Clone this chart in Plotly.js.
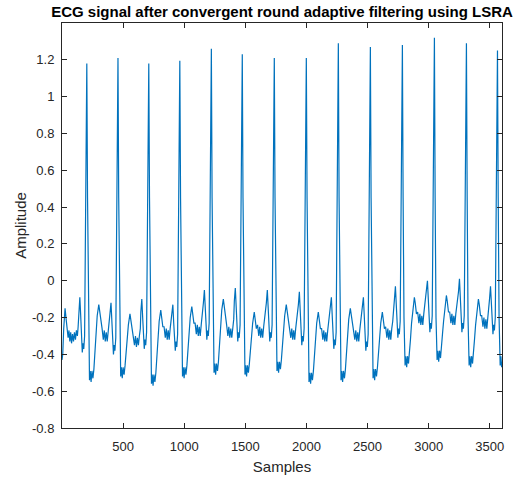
<!DOCTYPE html>
<html>
<head>
<meta charset="utf-8">
<script src="https://cdn.plot.ly/plotly-3.0.1.min.js"></script>
<style>html,body{margin:0;padding:0;background:#fff;}#chart{width:520px;height:479px;}</style>
</head>
<body>
<div id="chart"></div>
<script>
// Sample index of each traced point of the filtered ECG
const samples = [
  0,6,14,25,34,42,50,57,64,71,78,86,94,102,110,118,126,132,
  138,146,153,160,166,172,178,185,193,203,209,216,225,231,238,245,253,261,269,278,288,301,308,318,328,338,346,354,362,370,378,386,
  393,401,408,415,421,427,433,440,448,458,464,471,480,486,493,500,508,516,524,533,543,556,563,573,583,593,601,609,617,625,633,641,
  645,653,660,667,673,679,685,692,700,710,716,723,732,738,745,752,760,768,776,785,795,808,815,825,835,845,853,861,869,877,885,893,
  899,907,914,921,927,933,939,946,954,964,970,977,986,992,999,1006,1014,1022,1030,1039,1049,1062,1069,1079,1089,1099,1107,1115,1123,1131,1139,1147,
  1157,1165,1172,1179,1185,1191,1197,1204,1212,1222,1228,1235,1244,1250,1257,1264,1272,1280,1288,1297,1307,1320,1327,1337,1347,1357,1365,1373,1381,1389,1397,1405,
  1410,1418,1425,1432,1438,1444,1450,1457,1465,1475,1481,1488,1497,1503,1510,1517,1525,1533,1541,1550,1560,1573,1580,1590,1600,1610,1618,1626,1634,1642,1650,1658,
  1672,1680,1687,1694,1700,1706,1712,1719,1727,1737,1743,1750,1759,1765,1772,1779,1787,1795,1803,1812,1822,1835,1842,1852,1862,1872,1880,1888,1896,1904,1912,1920,
  1934,1942,1949,1956,1962,1968,1974,1981,1989,1999,2005,2012,2021,2027,2034,2041,2049,2057,2065,2074,2084,2097,2104,2114,2124,2134,2142,2150,2158,2166,2174,2182,
  2196,2204,2211,2218,2224,2230,2236,2243,2251,2261,2267,2274,2283,2289,2296,2303,2311,2319,2327,2336,2346,2359,2366,2376,2386,2396,2404,2412,2420,2428,2436,2444,
  2458,2466,2473,2480,2486,2492,2498,2505,2513,2523,2529,2536,2545,2551,2558,2565,2573,2581,2589,2598,2608,2621,2628,2638,2648,2658,2666,2674,2682,2690,2698,2706,
  2720,2728,2735,2742,2748,2754,2760,2767,2775,2785,2791,2798,2807,2813,2820,2827,2835,2843,2851,2860,2870,2883,2890,2900,2910,2920,2928,2936,2944,2952,2960,2968,
  2982,2990,2997,3004,3010,3016,3022,3029,3037,3047,3053,3060,3069,3075,3082,3089,3097,3105,3113,3122,3132,3145,3152,3162,3172,3182,3190,3198,3206,3214,3222,3230,
  3244,3252,3259,3266,3272,3278,3284,3291,3299,3309,3315,3322,3331,3337,3344,3351,3359,3367,3375,3384,3394,3407,3414,3424,3434,3444,3452,3460,3468,3476,3484,3492,
  3498,3506,3513,3520,3526,3532,3538,3545,3553,3563,3569,3576,3585,3591,3597,3600
];
// Amplitude at each of those samples
const amplitude = [
  -0.43,-0.40,-0.26,-0.15,-0.21,-0.27,-0.31,-0.27,-0.33,-0.28,-0.34,-0.29,-0.33,-0.28,-0.32,-0.27,-0.30,-0.25,
  -0.16,-0.09,-0.19,-0.32,-0.39,-0.34,-0.37,-0.30,0.35,1.18,0.45,-0.20,-0.54,-0.49,-0.55,-0.49,-0.53,-0.48,-0.40,-0.27,-0.19,-0.13,-0.16,-0.22,-0.26,-0.32,-0.27,-0.33,-0.28,-0.33,-0.27,-0.23,
  -0.19,-0.12,-0.22,-0.33,-0.40,-0.35,-0.38,-0.31,0.35,1.21,0.45,-0.20,-0.52,-0.47,-0.53,-0.47,-0.51,-0.46,-0.38,-0.32,-0.24,-0.18,-0.21,-0.27,-0.29,-0.35,-0.30,-0.36,-0.31,-0.35,-0.30,-0.26,
  -0.17,-0.10,-0.20,-0.30,-0.37,-0.32,-0.35,-0.28,0.35,1.18,0.45,-0.20,-0.56,-0.51,-0.57,-0.51,-0.55,-0.50,-0.42,-0.30,-0.22,-0.16,-0.19,-0.25,-0.25,-0.31,-0.26,-0.32,-0.27,-0.32,-0.26,-0.22,
  -0.20,-0.13,-0.23,-0.31,-0.38,-0.33,-0.36,-0.29,0.35,1.195,0.45,-0.20,-0.52,-0.47,-0.53,-0.47,-0.51,-0.46,-0.38,-0.28,-0.20,-0.14,-0.17,-0.23,-0.23,-0.29,-0.24,-0.30,-0.25,-0.30,-0.24,-0.20,
  -0.12,-0.05,-0.15,-0.25,-0.32,-0.27,-0.30,-0.23,0.35,1.26,0.45,-0.20,-0.50,-0.45,-0.51,-0.45,-0.49,-0.44,-0.36,-0.24,-0.16,-0.10,-0.13,-0.19,-0.24,-0.30,-0.25,-0.31,-0.26,-0.31,-0.25,-0.21,
  -0.11,-0.04,-0.14,-0.26,-0.33,-0.28,-0.31,-0.24,0.35,1.23,0.45,-0.20,-0.51,-0.46,-0.52,-0.46,-0.50,-0.45,-0.37,-0.31,-0.23,-0.17,-0.20,-0.26,-0.24,-0.30,-0.25,-0.31,-0.26,-0.31,-0.25,-0.21,
  -0.12,-0.05,-0.15,-0.26,-0.33,-0.28,-0.31,-0.24,0.35,1.21,0.45,-0.20,-0.49,-0.44,-0.50,-0.44,-0.48,-0.43,-0.35,-0.27,-0.19,-0.13,-0.16,-0.22,-0.25,-0.31,-0.26,-0.32,-0.27,-0.32,-0.26,-0.22,
  -0.13,-0.06,-0.16,-0.28,-0.35,-0.30,-0.33,-0.26,0.35,1.21,0.45,-0.20,-0.55,-0.50,-0.56,-0.50,-0.54,-0.49,-0.41,-0.31,-0.23,-0.17,-0.20,-0.26,-0.26,-0.32,-0.27,-0.33,-0.28,-0.33,-0.27,-0.23,
  -0.16,-0.09,-0.19,-0.30,-0.37,-0.32,-0.35,-0.28,0.35,1.29,0.45,-0.20,-0.54,-0.49,-0.55,-0.49,-0.53,-0.48,-0.40,-0.29,-0.21,-0.15,-0.18,-0.24,-0.26,-0.32,-0.27,-0.33,-0.28,-0.33,-0.27,-0.23,
  -0.16,-0.09,-0.19,-0.31,-0.38,-0.33,-0.36,-0.29,0.35,1.27,0.45,-0.20,-0.53,-0.48,-0.54,-0.48,-0.52,-0.47,-0.39,-0.31,-0.23,-0.17,-0.20,-0.26,-0.25,-0.31,-0.26,-0.32,-0.27,-0.32,-0.26,-0.22,
  -0.10,-0.03,-0.13,-0.24,-0.31,-0.26,-0.29,-0.22,0.35,1.28,0.45,-0.20,-0.46,-0.41,-0.47,-0.41,-0.45,-0.40,-0.32,-0.23,-0.15,-0.09,-0.12,-0.18,-0.17,-0.23,-0.18,-0.24,-0.19,-0.24,-0.18,-0.14,
  -0.07,0.00,-0.10,-0.21,-0.28,-0.23,-0.26,-0.19,0.35,1.32,0.45,-0.20,-0.43,-0.38,-0.44,-0.38,-0.42,-0.37,-0.29,-0.22,-0.14,-0.08,-0.11,-0.17,-0.17,-0.23,-0.18,-0.24,-0.19,-0.24,-0.18,-0.14,
  -0.06,0.01,-0.09,-0.21,-0.28,-0.23,-0.26,-0.19,0.35,1.29,0.45,-0.20,-0.46,-0.41,-0.47,-0.41,-0.45,-0.40,-0.32,-0.24,-0.16,-0.10,-0.13,-0.19,-0.19,-0.25,-0.20,-0.26,-0.21,-0.26,-0.20,-0.16,
  -0.10,-0.03,-0.13,-0.22,-0.29,-0.24,-0.27,-0.20,0.35,1.25,0.45,-0.20,-0.46,-0.41,-0.47,-0.44
];
const xTicks = [500,1000,1500,2000,2500,3000,3500];
const yTicks = [-0.8,-0.6,-0.4,-0.2,0,0.2,0.4,0.6,0.8,1,1.2];
const yTickText = ['-0.8','-0.6','-0.4','-0.2','0','0.2','0.4','0.6','0.8','1','1.2'];

const font = '"Liberation Sans", Arial, Helvetica, sans-serif';
const axisColor = '#262626';

Plotly.newPlot('chart', [{
  x: samples, y: amplitude, type: 'scatter', mode: 'lines',
  line: {color: '#0072BD', width: 1.2}, hoverinfo: 'skip'
}], {
  width: 520, height: 479,
  margin: {l: 62, r: 18, t: 23, b: 51, pad: 0},
  paper_bgcolor: '#ffffff', plot_bgcolor: '#ffffff',
  showlegend: false,
  font: {family: font, color: axisColor},
  title: {text: '<b>ECG signal after convergent round adaptive filtering using LSRA</b>',
    font: {family: font, size: 15, color: '#000000'},
    x: 0.5, xref: 'paper', xanchor: 'center', y: 0.975, yref: 'container', yanchor: 'middle'},
  xaxis: {
    range: [0, 3600], tickvals: xTicks, ticktext: xTicks.map(String),
    ticks: 'inside', ticklen: 5, tickcolor: axisColor, tickwidth: 1,
    showline: true, linecolor: axisColor, linewidth: 1, mirror: 'ticks',
    showgrid: false, zeroline: false,
    tickfont: {family: font, size: 13, color: axisColor},
    ticklabelstandoff: 6,
    title: {text: 'Samples', font: {family: font, size: 15, color: axisColor}, standoff: 8}
  },
  yaxis: {
    range: [-0.8, 1.4], tickvals: yTicks, ticktext: yTickText,
    ticks: 'inside', ticklen: 5, tickcolor: axisColor, tickwidth: 1,
    showline: true, linecolor: axisColor, linewidth: 1, mirror: 'ticks',
    showgrid: false, zeroline: false,
    tickfont: {family: font, size: 13, color: axisColor},
    ticklabelstandoff: 4,
    title: {text: 'Amplitude', font: {family: font, size: 15, color: axisColor}, standoff: 1}
  }
}, {staticPlot: true, displayModeBar: false});
</script>
</body>
</html>
